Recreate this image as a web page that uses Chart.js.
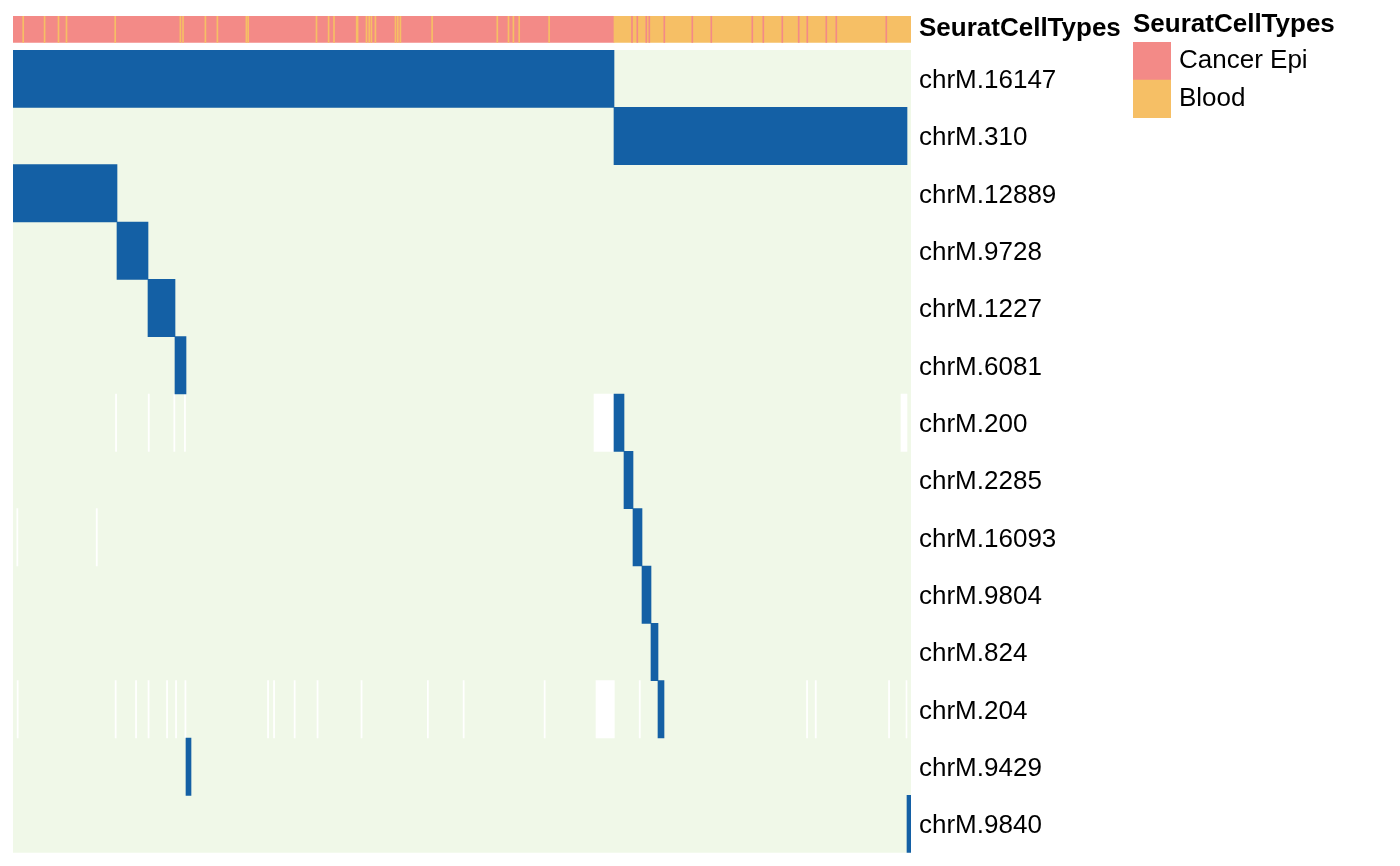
<!DOCTYPE html>
<html><head><meta charset="utf-8">
<script src="https://cdn.jsdelivr.net/npm/chart.js@4.4.1/dist/chart.umd.min.js"></script>
<style>
html,body{margin:0;padding:0;background:#fff;width:1400px;height:866px;overflow:hidden;}
canvas{position:absolute;}
</style></head><body>
<canvas id="anno" width="1130" height="60" style="left:0;top:0"></canvas>
<canvas id="heat" width="1130" height="822" style="left:0;top:44px"></canvas>
<canvas id="legend" width="272" height="130" style="left:1128px;top:0"></canvas>
<script>
// ---------------- data ----------------
const N_CELLS = 898;
const variants = ['chrM.16147','chrM.310','chrM.12889','chrM.9728','chrM.1227','chrM.6081','chrM.200',
  'chrM.2285','chrM.16093','chrM.9804','chrM.824','chrM.204','chrM.9429','chrM.9840'];
// column (cell index) range in which each variant is present (value 1)
const highStart = [0, 601, 0, 104, 135, 162, 601, 611, 620, 629, 638, 645, 173, 894];
const highEnd   = [601, 894, 104, 135, 162, 173, 611, 620, 629, 638, 645, 651, 178, 898];
// missing (NA) cells: [variant, first cell, last cell]
const missingCells = [
  ['chrM.200', 102.5, 103.6], ['chrM.200', 135.2, 136.3], ['chrM.200', 160.8, 161.9], ['chrM.200', 171.4, 172.5],
  ['chrM.200', 581, 601], ['chrM.200', 888, 894],
  ['chrM.16093', 3.8, 4.9], ['chrM.16093', 83.2, 84.3],
  ['chrM.204', 4.1, 5.2], ['chrM.204', 102.1, 103.2], ['chrM.204', 122.5, 123.6], ['chrM.204', 135, 136.1],
  ['chrM.204', 153.5, 154.6], ['chrM.204', 162.5, 163.6], ['chrM.204', 171.9, 173], ['chrM.204', 254.5, 255.6],
  ['chrM.204', 260.5, 261.6], ['chrM.204', 281.1, 282.2], ['chrM.204', 304, 305.1], ['chrM.204', 348, 349.1],
  ['chrM.204', 414.3, 415.4], ['chrM.204', 450.1, 451.2], ['chrM.204', 531.1, 532.2], ['chrM.204', 583, 601.3],
  ['chrM.204', 626.2, 627.3], ['chrM.204', 793.5, 794.6], ['chrM.204', 802.2, 803.3], ['chrM.204', 875.5, 876.6],
  ['chrM.204', 893, 894]
];
// top annotation
const cellTypes = ['Cancer Epi', 'Blood'];
const cellTypeBlocks = [[0, 601], [601, 898]];
const bloodCellsInCancerBlock = [10.2, 31.6, 45.5, 53.5, 102.2, 167.4, 170, 192.4, 204.4, 233.4, 235.2, 303.5,
  315.6, 321, 343.7, 344.6, 353.5, 356.2, 358.4, 362.4, 382.5, 384.8, 387.4, 419.1, 484.3, 495.5, 500.4, 506.2, 536.1];
const cancerCellsInBloodBlock = [619, 624.3, 633.3, 636.3, 651.3, 679.3, 698.3, 739.3, 750.3, 769.3, 785.7,
  794.3, 813.3, 823.3, 873.3];

// ---------------- style ----------------
const COL_CANCER = '#F38A87';
const COL_BLOOD = '#F6BF65';
const COL_HIGH = '#1460A5';
const COL_LOW = '#F0F8E8';
const FONT = "'Liberation Sans', Arial, Helvetica, sans-serif";

const barCommon = { barPercentage: 1, categoryPercentage: 1, grouped: false, borderWidth: 0 };
const baseOpts = {
  responsive: false, animation: false, events: [], indexAxis: 'y',
  plugins: { legend: { display: false }, tooltip: { enabled: false }, title: { display: false } }
};
function fixAxis(width) {
  return s => { s.width = width; s.paddingTop = 0; s.paddingBottom = 0; s.paddingLeft = 0; s.paddingRight = 0; };
}
const noGrid = { display: false, drawTicks: false, tickLength: 0 };

// ---------------- annotation chart ----------------
new Chart(document.getElementById('anno'), {
  type: 'bar',
  data: {
    datasets: [
      Object.assign({ data: bloodCellsInCancerBlock.map(c => ({ x: [c - 0.5, c + 0.5], y: 'SeuratCellTypes' })),
        backgroundColor: COL_BLOOD }, barCommon),
      Object.assign({ data: cancerCellsInBloodBlock.map(c => ({ x: [c - 0.5, c + 0.5], y: 'SeuratCellTypes' })),
        backgroundColor: COL_CANCER }, barCommon),
      Object.assign({ data: cellTypeBlocks.map(b => ({ x: b, y: 'SeuratCellTypes' })),
        backgroundColor: [COL_CANCER, COL_BLOOD] }, barCommon)
    ]
  },
  options: Object.assign({}, baseOpts, {
    layout: { padding: { left: 13, right: 0, top: 16, bottom: 17.3 } },
    scales: {
      x: { type: 'linear', min: 0, max: N_CELLS, display: false },
      y: { type: 'category', labels: ['SeuratCellTypes'], position: 'right', offset: true,
        grid: noGrid, border: { display: false },
        ticks: { color: '#000', padding: 8, labelOffset: -1, autoSkip: false,
          font: { family: FONT, size: 26, weight: 'bold' } },
        afterFit: fixAxis(219) }
    }
  })
});

// ---------------- heatmap ----------------
new Chart(document.getElementById('heat'), {
  type: 'bar',
  data: {
    labels: variants,
    datasets: [
      Object.assign({ data: variants.map((v, i) => ({ x: [highStart[i], highEnd[i]], y: v })),
        backgroundColor: COL_HIGH }, barCommon),
      Object.assign({ data: missingCells.map(m => ({ x: [m[1], m[2]], y: m[0] })),
        backgroundColor: '#FFFFFF' }, barCommon),
      Object.assign({ data: variants.map(v => ({ x: [0, N_CELLS], y: v })),
        backgroundColor: COL_LOW }, barCommon)
    ]
  },
  options: Object.assign({}, baseOpts, {
    layout: { padding: { left: 13, right: 0, top: 6, bottom: 13.3 } },
    scales: {
      x: { type: 'linear', min: 0, max: N_CELLS, display: false },
      y: { type: 'category', position: 'right', offset: true,
        grid: noGrid, border: { display: false },
        ticks: { color: '#000', padding: 8, labelOffset: 2, autoSkip: false,
          font: { family: FONT, size: 26 } },
        afterFit: fixAxis(219) }
    }
  })
});

// ---------------- legend ----------------
new Chart(document.getElementById('legend'), {
  type: 'bar',
  data: {
    labels: cellTypes,
    datasets: [
      Object.assign({ data: cellTypes.map(t => ({ x: [0, 1], y: t })),
        backgroundColor: [COL_CANCER, COL_BLOOD] }, barCommon)
    ]
  },
  options: Object.assign({}, baseOpts, {
    layout: { padding: { left: 5, right: 0, top: 0, bottom: 12 } },
    plugins: { legend: { display: false }, tooltip: { enabled: false },
      title: { display: true, text: 'SeuratCellTypes', align: 'start', color: '#000',
        font: { family: FONT, size: 26, weight: 'bold', lineHeight: 1.2 },
        padding: { top: 9.4, bottom: 1.4 } } },
    scales: {
      x: { type: 'linear', min: 0, max: 1, display: false },
      y: { type: 'category', position: 'right', offset: true,
        grid: noGrid, border: { display: false },
        ticks: { color: '#000', padding: 8, autoSkip: false, font: { family: FONT, size: 26 } },
        afterFit: fixAxis(229) }
    }
  })
});
</script>
</body></html>
